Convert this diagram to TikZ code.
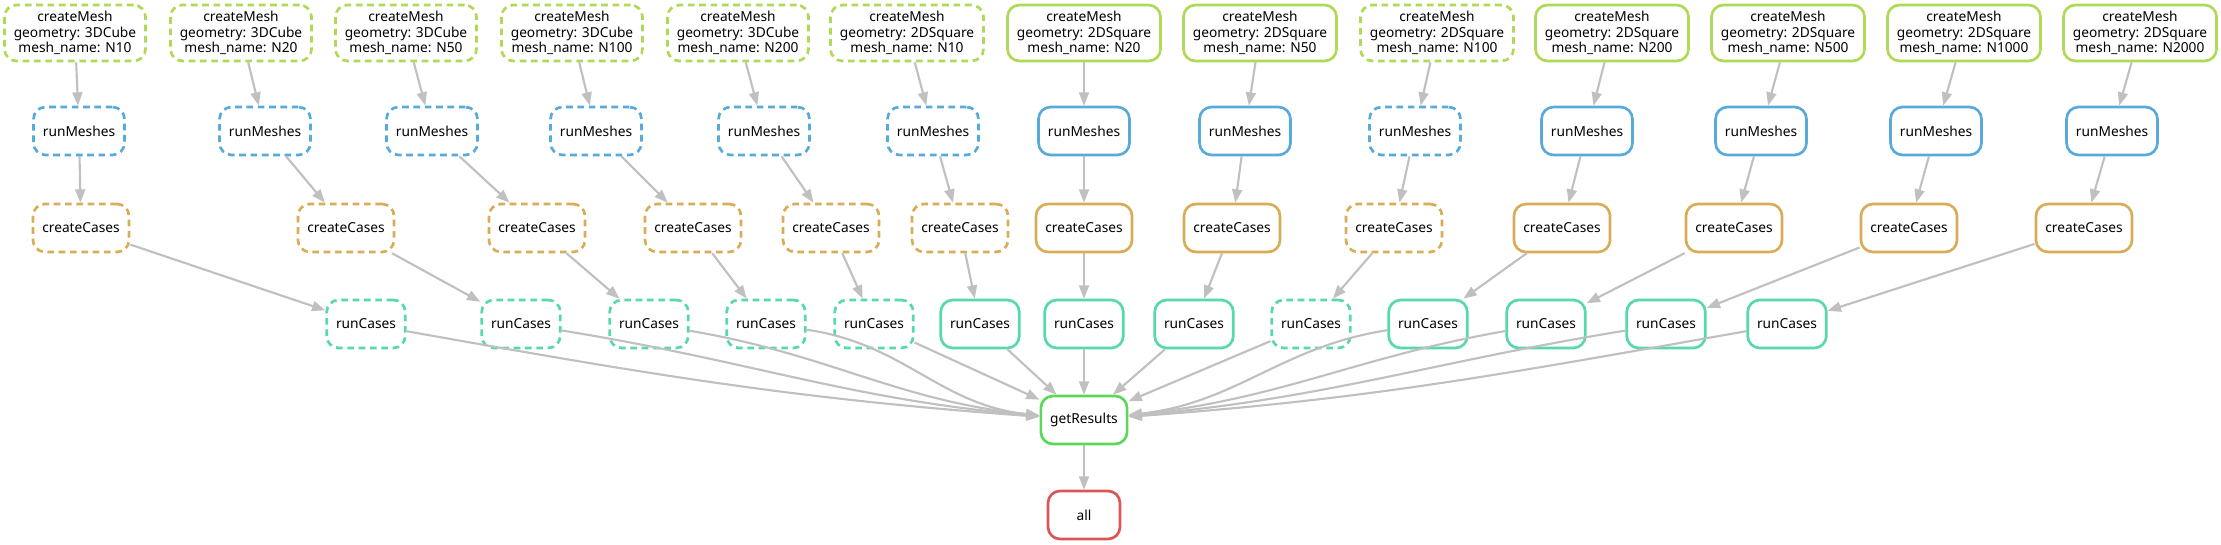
\documentclass[tikz,border=0pt]{standalone}
\usepackage{fontspec}
\setmainfont{Noto Sans}
\usetikzlibrary{arrows.meta}

\definecolor{meshcol}{RGB}{175,217,87}
\definecolor{runmeshcol}{RGB}{87,170,217}
\definecolor{casecol}{RGB}{217,173,87}
\definecolor{runcasecol}{RGB}{87,217,170}
\definecolor{rescol}{RGB}{89,217,87}
\definecolor{allcol}{RGB}{217,87,87}
\definecolor{edgegrey}{RGB}{192,192,192}

\begin{document}
\begin{tikzpicture}[x=0.75pt,y=0.75pt,yscale=-1,xscale=1,
  job/.style={draw, rounded corners=9pt, line width=2pt, fill=white, minimum height=36pt, inner xsep=7pt, align=center, font=\fontsize{10.3}{11.5}\selectfont},
  idle/.style={dash pattern=on 5pt off 3.5pt},
  meshjob/.style={job, draw=meshcol, minimum height=42pt},
  runmeshjob/.style={job, draw=runmeshcol},
  casejob/.style={job, draw=casecol},
  runcasejob/.style={job, draw=runcasecol},
  resjob/.style={job, draw=rescol},
  alljob/.style={job, draw=allcol, minimum width=54pt},
  flow/.style={draw=edgegrey, line width=1.6pt, -{Triangle[length=10pt,width=7.5pt]}}]
\useasboundingbox (0,0) rectangle (2221,545);

% createMesh
\node[meshjob,idle] (cm1) at (75,33) {createMesh\\geometry: 3DCube\\mesh\_name: N10};
\node[meshjob,idle] (cm2) at (241,33) {createMesh\\geometry: 3DCube\\mesh\_name: N20};
\node[meshjob,idle] (cm3) at (406,33) {createMesh\\geometry: 3DCube\\mesh\_name: N50};
\node[meshjob,idle] (cm4) at (572,33) {createMesh\\geometry: 3DCube\\mesh\_name: N100};
\node[meshjob,idle] (cm5) at (738,33) {createMesh\\geometry: 3DCube\\mesh\_name: N200};
\node[meshjob,idle] (cm6) at (907,33) {createMesh\\geometry: 2DSquare\\mesh\_name: N10};
\node[meshjob] (cm7) at (1084,33) {createMesh\\geometry: 2DSquare\\mesh\_name: N20};
\node[meshjob] (cm8) at (1260,33) {createMesh\\geometry: 2DSquare\\mesh\_name: N50};
\node[meshjob,idle] (cm9) at (1437,33) {createMesh\\geometry: 2DSquare\\mesh\_name: N100};
\node[meshjob] (cm10) at (1612,33) {createMesh\\geometry: 2DSquare\\mesh\_name: N200};
\node[meshjob] (cm11) at (1788,33) {createMesh\\geometry: 2DSquare\\mesh\_name: N500};
\node[meshjob] (cm12) at (1964,33) {createMesh\\geometry: 2DSquare\\mesh\_name: N1000};
\node[meshjob] (cm13) at (2140,33) {createMesh\\geometry: 2DSquare\\mesh\_name: N2000};

% runMeshes
\node[runmeshjob,idle] (rm1) at (79,131) {runMeshes};
\node[runmeshjob,idle] (rm2) at (265,131) {runMeshes};
\node[runmeshjob,idle] (rm3) at (432,131) {runMeshes};
\node[runmeshjob,idle] (rm4) at (596,131) {runMeshes};
\node[runmeshjob,idle] (rm5) at (764,131) {runMeshes};
\node[runmeshjob,idle] (rm6) at (933,131) {runMeshes};
\node[runmeshjob] (rm7) at (1084,131) {runMeshes};
\node[runmeshjob] (rm8) at (1245,131) {runMeshes};
\node[runmeshjob,idle] (rm9) at (1415,131) {runMeshes};
\node[runmeshjob] (rm10) at (1587,131) {runMeshes};
\node[runmeshjob] (rm11) at (1761,131) {runMeshes};
\node[runmeshjob] (rm12) at (1936,131) {runMeshes};
\node[runmeshjob] (rm13) at (2112,131) {runMeshes};

% createCases
\node[casejob,idle] (cc1) at (81,228) {createCases};
\node[casejob,idle] (cc2) at (346,228) {createCases};
\node[casejob,idle] (cc3) at (537,228) {createCases};
\node[casejob,idle] (cc4) at (693,228) {createCases};
\node[casejob,idle] (cc5) at (831,228) {createCases};
\node[casejob,idle] (cc6) at (960,228) {createCases};
\node[casejob] (cc7) at (1084,228) {createCases};
\node[casejob] (cc8) at (1232,228) {createCases};
\node[casejob,idle] (cc9) at (1394,228) {createCases};
\node[casejob] (cc10) at (1562,228) {createCases};
\node[casejob] (cc11) at (1734,228) {createCases};
\node[casejob] (cc12) at (1909,228) {createCases};
\node[casejob] (cc13) at (2084,228) {createCases};

% runCases
\node[runcasejob,idle] (rc1) at (366,324) {runCases};
\node[runcasejob,idle] (rc2) at (521,324) {runCases};
\node[runcasejob,idle] (rc3) at (649,324) {runCases};
\node[runcasejob,idle] (rc4) at (766,324) {runCases};
\node[runcasejob,idle] (rc5) at (874,324) {runCases};
\node[runcasejob] (rc6) at (980,324) {runCases};
\node[runcasejob] (rc7) at (1084,324) {runCases};
\node[runcasejob] (rc8) at (1194,324) {runCases};
\node[runcasejob,idle] (rc9) at (1311,324) {runCases};
\node[runcasejob] (rc10) at (1428,324) {runCases};
\node[runcasejob] (rc11) at (1546,324) {runCases};
\node[runcasejob] (rc12) at (1666,324) {runCases};
\node[runcasejob] (rc13) at (1787,324) {runCases};

% getResults and all
\node[resjob] (gr) at (1084,420) {getResults};
\node[alljob] (all) at (1084,515) {all};

% mesh -> runMeshes -> createCases -> runCases
\draw[flow] (cm1) -- (rm1);   \draw[flow] (rm1) -- (cc1);   \draw[flow] (cc1) -- (rc1);
\draw[flow] (cm2) -- (rm2);   \draw[flow] (rm2) -- (cc2);   \draw[flow] (cc2) -- (rc2);
\draw[flow] (cm3) -- (rm3);   \draw[flow] (rm3) -- (cc3);   \draw[flow] (cc3) -- (rc3);
\draw[flow] (cm4) -- (rm4);   \draw[flow] (rm4) -- (cc4);   \draw[flow] (cc4) -- (rc4);
\draw[flow] (cm5) -- (rm5);   \draw[flow] (rm5) -- (cc5);   \draw[flow] (cc5) -- (rc5);
\draw[flow] (cm6) -- (rm6);   \draw[flow] (rm6) -- (cc6);   \draw[flow] (cc6) -- (rc6);
\draw[flow] (cm7) -- (rm7);   \draw[flow] (rm7) -- (cc7);   \draw[flow] (cc7) -- (rc7);
\draw[flow] (cm8) -- (rm8);   \draw[flow] (rm8) -- (cc8);   \draw[flow] (cc8) -- (rc8);
\draw[flow] (cm9) -- (rm9);   \draw[flow] (rm9) -- (cc9);   \draw[flow] (cc9) -- (rc9);
\draw[flow] (cm10) -- (rm10); \draw[flow] (rm10) -- (cc10); \draw[flow] (cc10) -- (rc10);
\draw[flow] (cm11) -- (rm11); \draw[flow] (rm11) -- (cc11); \draw[flow] (cc11) -- (rc11);
\draw[flow] (cm12) -- (rm12); \draw[flow] (rm12) -- (cc12); \draw[flow] (cc12) -- (rc12);
\draw[flow] (cm13) -- (rm13); \draw[flow] (rm13) -- (cc13); \draw[flow] (cc13) -- (rc13);

% runCases -> getResults -> all
\draw[flow] (rc1) to[out=14, in=186] (gr);
\draw[flow] (rc2) to[out=14, in=188] (gr);
\draw[flow] (rc3) to[out=17, in=191] (gr);
\draw[flow] (rc4) to[out=19, in=195] (gr);
\draw[flow] (rc5) -- (gr);
\draw[flow] (rc6) -- (gr);
\draw[flow] (rc7) -- (gr);
\draw[flow] (rc8) -- (gr);
\draw[flow] (rc9) -- (gr);
\draw[flow] (rc10) to[out=161, in=345] (gr);
\draw[flow] (rc11) to[out=163, in=349] (gr);
\draw[flow] (rc12) to[out=166, in=352] (gr);
\draw[flow] (rc13) to[out=166, in=354] (gr);
\draw[flow] (gr) -- (all);

\end{tikzpicture}
\end{document}
